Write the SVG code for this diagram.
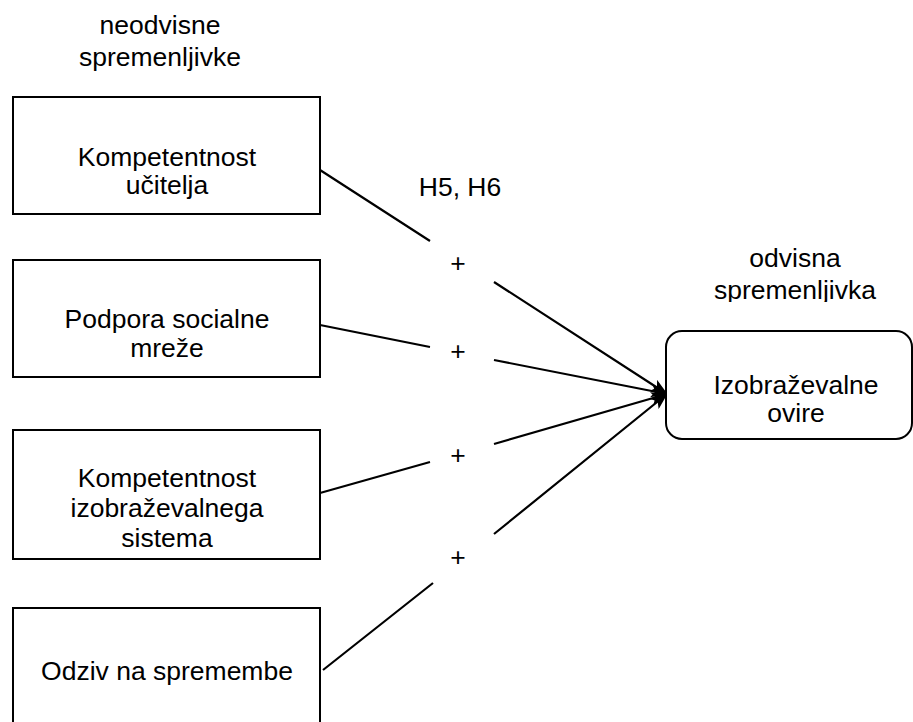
<svg xmlns="http://www.w3.org/2000/svg" width="913" height="722" viewBox="0 0 913 722">
  <style>
    text { font-family: "Liberation Sans", Arial, sans-serif; font-size: 26.5px; fill: #000; text-anchor: middle; }
    .box { fill: #fff; stroke: #000; stroke-width: 2; }
    .edge { fill: none; stroke: #000; stroke-width: 2.2; }
  </style>
  <defs>
    <marker id="arrow" markerUnits="userSpaceOnUse" markerWidth="17" markerHeight="13" viewBox="0 0 17 13" refX="16" refY="6.5" orient="auto">
      <path d="M0,0 L17,6.5 L0,13 L4,6.5 Z" fill="#000"/>
    </marker>
    <clipPath id="labelClip">
      <rect x="660" y="230" width="253" height="72"/>
    </clipPath>
  </defs>

  <rect width="913" height="722" fill="#fff"/>

  <!-- group headings -->
  <g id="label-independent">
    <text x="160" y="34">neodvisne</text>
    <text x="160" y="66">spremenljivke</text>
  </g>
  <g id="label-dependent" clip-path="url(#labelClip)">
    <text x="795" y="267">odvisna</text>
    <text x="795" y="299">spremenljivka</text>
  </g>
  <g id="label-hypotheses">
    <text x="460" y="196">H5, H6</text>
  </g>

  <!-- connectors: each split around its "+" label -->
  <g id="connectors">
    <path class="edge" d="M320,170 L430,241 M494,282 L667,394" marker-end="url(#arrow)"/>
    <path class="edge" d="M320,325 L430,347 M494,360 L667,394" marker-end="url(#arrow)"/>
    <path class="edge" d="M320,493 L430,462 M494,444 L667,394" marker-end="url(#arrow)"/>
    <path class="edge" d="M323,670 L433,583 M494,534 L667,394" marker-end="url(#arrow)"/>
    <text x="458" y="272">+</text>
    <text x="458" y="360">+</text>
    <text x="458" y="464">+</text>
    <text x="458" y="566">+</text>
  </g>

  <g id="node-kompetentnost-ucitelja">
    <rect class="box" x="13" y="97" width="307" height="117"/>
    <text x="167" y="166">Kompetentnost</text>
    <text x="167" y="194">učitelja</text>
  </g>

  <g id="node-podpora">
    <rect class="box" x="13" y="260" width="307" height="117"/>
    <text x="167" y="328">Podpora socialne</text>
    <text x="167" y="357">mreže</text>
  </g>

  <g id="node-kompetentnost-sistema">
    <rect class="box" x="13" y="430" width="307" height="129"/>
    <text x="167" y="487">Kompetentnost</text>
    <text x="167" y="517">izobraževalnega</text>
    <text x="167" y="547">sistema</text>
  </g>

  <g id="node-odziv">
    <rect class="box" x="13" y="608" width="307" height="130"/>
    <text x="167" y="680">Odziv na spremembe</text>
  </g>

  <g id="node-ovire">
    <rect class="box" x="666" y="331" width="246" height="108" rx="16" ry="16"/>
    <text x="796" y="394">Izobraževalne</text>
    <text x="796" y="422">ovire</text>
  </g>
</svg>
